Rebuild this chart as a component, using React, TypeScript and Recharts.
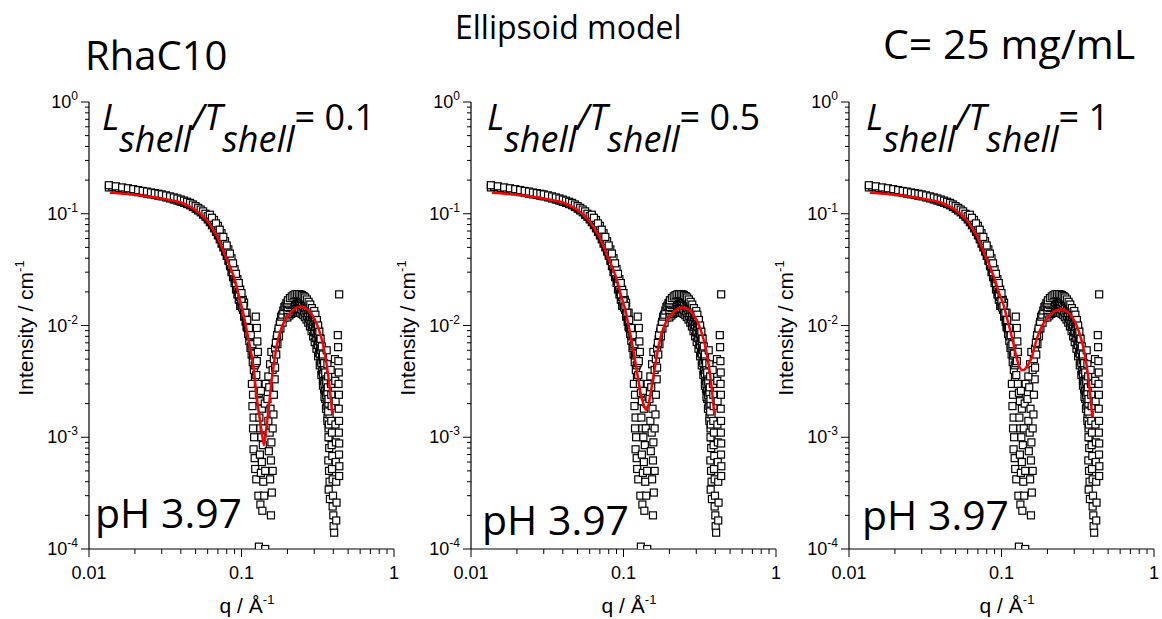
import { ScatterChart, Scatter, XAxis, YAxis } from 'recharts';

const TICK_FONT = '"Liberation Sans", Arial, sans-serif';
const TEXT_FONT = '"Open Sans", "Noto Sans", sans-serif';

// axis ticks
const xMajorTicks = [0.01, 0.1, 1];
const xTickLabels = ['0.01', '0.1', '1'];
const yMajorTicks = [1e-4, 1e-3, 1e-2, 1e-1, 1];
const yTickExponents = ['-4', '-3', '-2', '-1', '0'];
const minorSteps = [2, 3, 4, 5, 6, 7, 8, 9];

// measured curve, low q band
const lowQ = [0.0135, 0.0150, 0.0165, 0.0180, 0.0195, 0.0210, 0.0225, 0.0240, 0.0255, 0.0270, 0.0285, 0.0300, 0.0320, 0.0340, 0.0360, 0.0380, 0.0400, 0.0420, 0.0440, 0.0460, 0.0480, 0.0500, 0.0520, 0.0540, 0.0560, 0.0580, 0.0600, 0.0620, 0.0640, 0.0660, 0.0680, 0.0700, 0.0720, 0.0740, 0.0760, 0.0780, 0.0800, 0.0820, 0.0840, 0.0860, 0.0880, 0.0900, 0.0920, 0.0940, 0.0960, 0.0980];
const lowUpper = [0.180, 0.176, 0.172, 0.169, 0.166, 0.163, 0.160, 0.158, 0.155, 0.153, 0.151, 0.149, 0.146, 0.143, 0.140, 0.137, 0.134, 0.131, 0.128, 0.125, 0.121, 0.117, 0.113, 0.109, 0.105, 0.100, 0.095, 0.090, 0.085, 0.080, 0.075, 0.070, 0.065, 0.060, 0.055, 0.051, 0.046, 0.042, 0.038, 0.034, 0.031, 0.028, 0.025, 0.022, 0.020, 0.018];
const lowLower = [0.172, 0.168, 0.165, 0.162, 0.159, 0.156, 0.154, 0.151, 0.149, 0.147, 0.145, 0.143, 0.140, 0.137, 0.134, 0.131, 0.128, 0.125, 0.122, 0.119, 0.115, 0.111, 0.107, 0.103, 0.098, 0.094, 0.089, 0.084, 0.079, 0.074, 0.069, 0.064, 0.059, 0.054, 0.050, 0.046, 0.042, 0.038, 0.034, 0.030, 0.027, 0.024, 0.021, 0.019, 0.017, 0.015];
const lowQ2 = [0.0142, 0.0157, 0.0172, 0.0187, 0.0202, 0.0217, 0.0232, 0.0247, 0.0262, 0.0277, 0.0292, 0.0310, 0.0330, 0.0350, 0.0370, 0.0390, 0.0410, 0.0430, 0.0450, 0.0470, 0.0490, 0.0510, 0.0530, 0.0550, 0.0570, 0.0590, 0.0610, 0.0630, 0.0650, 0.0670, 0.0690, 0.0710, 0.0730, 0.0750, 0.0770, 0.0790, 0.0810, 0.0830, 0.0850, 0.0870, 0.0890, 0.0910, 0.0930, 0.0950, 0.0970];
const lowMid = [0.174, 0.170, 0.167, 0.164, 0.161, 0.158, 0.156, 0.153, 0.151, 0.149, 0.147, 0.144, 0.141, 0.138, 0.135, 0.132, 0.129, 0.126, 0.123, 0.120, 0.116, 0.112, 0.108, 0.104, 0.0995, 0.095, 0.090, 0.085, 0.080, 0.075, 0.070, 0.065, 0.060, 0.055, 0.051, 0.046, 0.042, 0.038, 0.034, 0.031, 0.028, 0.025, 0.022, 0.020, 0.018];
const kneeQ = [0.062, 0.066, 0.070, 0.074, 0.078, 0.082, 0.086, 0.090, 0.094, 0.098, 0.102];
const kneeI = [0.098, 0.088, 0.078, 0.067, 0.057, 0.048, 0.040, 0.032, 0.026, 0.021, 0.017];
const kneeQ2 = [0.064, 0.068, 0.072, 0.076, 0.080, 0.084, 0.088, 0.092, 0.096, 0.100, 0.104, 0.108];
const kneeHi2 = [0.092, 0.082, 0.072, 0.062, 0.052, 0.044, 0.036, 0.029, 0.024, 0.0195, 0.0160, 0.0130];
const kneeLo2 = [0.086, 0.075, 0.064, 0.054, 0.045, 0.037, 0.030, 0.024, 0.019, 0.015, 0.012, 0.0098];
const descQ = [0.1005, 0.1025, 0.1045, 0.1065, 0.1085, 0.1105, 0.1125, 0.1145, 0.1165, 0.1185, 0.1205, 0.1225];
const descI = [0.0155, 0.0138, 0.0122, 0.0108, 0.0096, 0.0084, 0.0073, 0.0063, 0.0055, 0.0047, 0.0040, 0.0034];

// first minimum, scattered points
const dipQ = [0.100, 0.101, 0.103, 0.104, 0.106, 0.107, 0.109, 0.110, 0.112, 0.113, 0.115, 0.116, 0.118, 0.119, 0.121, 0.122, 0.124, 0.125, 0.124, 0.126, 0.127, 0.128, 0.126, 0.117, 0.119, 0.118, 0.120, 0.119, 0.121, 0.120, 0.122, 0.123, 0.125, 0.128, 0.130, 0.132, 0.134, 0.136, 0.131, 0.133, 0.135, 0.138, 0.132, 0.136, 0.134, 0.139, 0.129, 0.133, 0.137, 0.141, 0.143, 0.140, 0.142, 0.144, 0.148, 0.152, 0.155, 0.150, 0.153, 0.157, 0.151, 0.156, 0.160, 0.154, 0.158, 0.156, 0.160, 0.162, 0.163, 0.165, 0.150, 0.154, 0.157, 0.160, 0.163, 0.166, 0.166, 0.169, 0.170, 0.172, 0.174, 0.176, 0.178, 0.180, 0.183, 0.186, 0.189, 0.192, 0.196, 0.130, 0.143];
const dipI = [0.0165, 0.0145, 0.0150, 0.0128, 0.0130, 0.0110, 0.0112, 0.0094, 0.0095, 0.0080, 0.0082, 0.0066, 0.0068, 0.0054, 0.0056, 0.0044, 0.0046, 0.0036, 0.0120, 0.0095, 0.0072, 0.0058, 0.0048, 0.0030, 0.0024, 0.0019, 0.0015, 0.0012, 0.0010, 0.00078, 0.00065, 0.00052, 0.00042, 0.0030, 0.0025, 0.0021, 0.0026, 0.0018, 0.0015, 0.0012, 0.0010, 0.00085, 0.00070, 0.00060, 0.00048, 0.00040, 0.00030, 0.00025, 0.00022, 0.00030, 0.00050, 0.00120, 0.0020, 0.0030, 0.0022, 0.0028, 0.0018, 0.0014, 0.0011, 0.00090, 0.00075, 0.00062, 0.00050, 0.00042, 0.00032, 0.00020, 0.00120, 0.0016, 0.0024, 0.0033, 0.0035, 0.0045, 0.0058, 0.0040, 0.0050, 0.0042, 0.0062, 0.0055, 0.0075, 0.0068, 0.0088, 0.0080, 0.0102, 0.0094, 0.0115, 0.0106, 0.0128, 0.0118, 0.0140, 0.000105, 0.000100];
const flankQ = [0.168, 0.171, 0.175, 0.179, 0.182, 0.185, 0.188, 0.191, 0.194, 0.197];
const flankI = [0.0070, 0.0082, 0.0094, 0.0108, 0.0120, 0.0125, 0.0136, 0.0146, 0.0150, 0.0158];

// second maximum band
const peakQ = [0.200, 0.206, 0.212, 0.218, 0.224, 0.230, 0.236, 0.242, 0.248, 0.254, 0.260, 0.267, 0.274, 0.281, 0.288, 0.295, 0.302, 0.310, 0.318, 0.326, 0.334, 0.342, 0.350, 0.358, 0.366];
const peakUpper = [0.0160, 0.0168, 0.0175, 0.0180, 0.0184, 0.0186, 0.0187, 0.0186, 0.0183, 0.0179, 0.0173, 0.0166, 0.0158, 0.0148, 0.0137, 0.0125, 0.0112, 0.0099, 0.0085, 0.0072, 0.0060, 0.0049, 0.0040, 0.0032, 0.0026];
const peakMid = [0.0138, 0.0144, 0.0149, 0.0153, 0.0155, 0.0157, 0.0157, 0.0156, 0.0153, 0.0149, 0.0144, 0.0137, 0.0129, 0.0120, 0.0110, 0.0100, 0.0089, 0.0078, 0.0067, 0.0056, 0.0046, 0.0037, 0.0030, 0.0024, 0.0019];
const peakLower = [0.0118, 0.0123, 0.0127, 0.0130, 0.0131, 0.0132, 0.0131, 0.0130, 0.0127, 0.0124, 0.0119, 0.0113, 0.0106, 0.0098, 0.0089, 0.0080, 0.0071, 0.0062, 0.0053, 0.0044, 0.0036, 0.0029, 0.0023, 0.0018, 0.0014];
const peakQ2 = [0.203, 0.209, 0.215, 0.221, 0.227, 0.233, 0.239, 0.245, 0.251, 0.257, 0.263, 0.270, 0.277, 0.284, 0.291, 0.298, 0.306, 0.314, 0.322, 0.330, 0.338, 0.346, 0.354, 0.362];
const peakHi2 = [0.0155, 0.0162, 0.0168, 0.0172, 0.0175, 0.0177, 0.0177, 0.0176, 0.0173, 0.0169, 0.0163, 0.0156, 0.0148, 0.0139, 0.0128, 0.0117, 0.0104, 0.0091, 0.0077, 0.0064, 0.0053, 0.0043, 0.0035, 0.0028];
const peakLo2 = [0.0128, 0.0133, 0.0137, 0.0140, 0.0142, 0.0143, 0.0142, 0.0141, 0.0138, 0.0134, 0.0129, 0.0122, 0.0115, 0.0106, 0.0097, 0.0087, 0.0077, 0.0067, 0.0057, 0.0048, 0.0039, 0.0032, 0.0026, 0.0021];
const peakQ3 = [0.2015, 0.2075, 0.2135, 0.2195, 0.2255, 0.2315, 0.2375, 0.2435, 0.2495, 0.2555, 0.2615, 0.2685, 0.2755, 0.2825, 0.2895, 0.2965, 0.3035, 0.3115, 0.3195, 0.3275];
const peakTop3 = [0.0168, 0.0176, 0.0182, 0.0187, 0.0190, 0.0191, 0.0191, 0.0190, 0.0187, 0.0183, 0.0178, 0.0171, 0.0163, 0.0154, 0.0143, 0.0131, 0.0118, 0.0104, 0.0090, 0.0077];
const peakMid3 = [0.0146, 0.0152, 0.0158, 0.0162, 0.0165, 0.0166, 0.0166, 0.0165, 0.0162, 0.0158, 0.0153, 0.0146, 0.0138, 0.0129, 0.0119, 0.0108, 0.0097, 0.0085, 0.0073, 0.0061];
const rightQ = [0.300, 0.305, 0.312, 0.318, 0.324, 0.330, 0.336, 0.342, 0.348, 0.354, 0.360, 0.366, 0.372, 0.378];
const rightHi = [0.0135, 0.0125, 0.0112, 0.0100, 0.0088, 0.0076, 0.0065, 0.0055, 0.0046, 0.0038, 0.0031, 0.0025, 0.0020, 0.0016];
const rightLo = [0.0090, 0.0082, 0.0072, 0.0063, 0.0055, 0.0047, 0.0040, 0.0033, 0.0027, 0.0022, 0.0018, 0.0015, 0.0012, 0.0010];

// high q tail, scattered points
const tailQ = [0.362, 0.366, 0.370, 0.368, 0.372, 0.370, 0.374, 0.372, 0.376, 0.371, 0.375, 0.378, 0.373, 0.380, 0.384, 0.386, 0.388, 0.390, 0.388, 0.392, 0.390, 0.394, 0.392, 0.396, 0.398, 0.396, 0.400, 0.402, 0.405, 0.410, 0.412, 0.414, 0.413, 0.416, 0.415, 0.418, 0.420, 0.418, 0.428, 0.430, 0.432, 0.434, 0.433, 0.435, 0.434, 0.436, 0.435, 0.437, 0.436, 0.438, 0.437, 0.437];
const tailI = [0.0060, 0.0045, 0.0035, 0.0028, 0.0022, 0.0017, 0.0013, 0.0010, 0.00080, 0.00062, 0.00050, 0.00040, 0.00034, 0.00028, 0.0040, 0.0030, 0.0024, 0.0019, 0.0014, 0.0011, 0.00085, 0.00068, 0.00052, 0.00042, 0.00030, 0.00024, 0.00020, 0.00016, 0.00014, 0.0050, 0.0032, 0.0021, 0.0013, 0.00090, 0.00060, 0.00040, 0.00026, 0.00018, 0.0082, 0.0064, 0.0048, 0.0038, 0.0030, 0.0024, 0.0018, 0.0014, 0.0011, 0.00088, 0.00070, 0.00055, 0.00045, 0.0190];

// fitted ellipsoid model curves
const fitQ = [0.0137, 0.0180, 0.0251, 0.0300, 0.0357, 0.0400, 0.0459, 0.0510, 0.0562, 0.0610, 0.0653, 0.0700, 0.0741, 0.0790, 0.0841, 0.0907, 0.0970, 0.1028, 0.1080, 0.1137, 0.1200, 0.1258, 0.1310, 0.1359, 0.1406, 0.1450, 0.1500, 0.1580, 0.1640, 0.1700, 0.1780, 0.1880, 0.2000, 0.2130, 0.2270, 0.2420, 0.2580, 0.2740, 0.2920, 0.3110, 0.3280, 0.3450, 0.3580, 0.3710, 0.3830, 0.3940];
const fitRatio01 = [0.154, 0.150, 0.142, 0.137, 0.131, 0.126, 0.116, 0.106, 0.094, 0.083, 0.0715, 0.061, 0.0507, 0.041, 0.0336, 0.0255, 0.0175, 0.0128, 0.0092, 0.00645, 0.0042, 0.0023, 0.00155, 0.00110, 0.00085, 0.00115, 0.0017, 0.0033, 0.0048, 0.0065, 0.0085, 0.0104, 0.0121, 0.0133, 0.0143, 0.0147, 0.0145, 0.0137, 0.0123, 0.0104, 0.0084, 0.0065, 0.0049, 0.0035, 0.0024, 0.0016];
const fitRatio05 = [0.154, 0.150, 0.142, 0.137, 0.131, 0.126, 0.116, 0.106, 0.094, 0.083, 0.0715, 0.061, 0.0507, 0.041, 0.0336, 0.0255, 0.0180, 0.0138, 0.0100, 0.0070, 0.0046, 0.0031, 0.0023, 0.00195, 0.00176, 0.0019, 0.0024, 0.0037, 0.0050, 0.0066, 0.0085, 0.0104, 0.0120, 0.0132, 0.0141, 0.0145, 0.0143, 0.0135, 0.0121, 0.0102, 0.0083, 0.0064, 0.0049, 0.0035, 0.0024, 0.0016];
const fitRatio1 = [0.154, 0.150, 0.142, 0.137, 0.131, 0.126, 0.116, 0.106, 0.094, 0.083, 0.0715, 0.061, 0.0507, 0.041, 0.0336, 0.0255, 0.0190, 0.0155, 0.0120, 0.0092, 0.0068, 0.0051, 0.0043, 0.0040, 0.0040, 0.0042, 0.0045, 0.0052, 0.0063, 0.0075, 0.0089, 0.0104, 0.0117, 0.0128, 0.0136, 0.0140, 0.0138, 0.0131, 0.0118, 0.0100, 0.0081, 0.0063, 0.0048, 0.0034, 0.0023, 0.0015];

const ratioLabels = ['0.1', '0.5', '1'];

const rows = (qs: number[], is: number[]) => qs.map((q, k) => ({ q, i: is[k] }));

const measured = [
  ...rows(lowQ, lowLower),
  ...rows(lowQ2, lowMid),
  ...rows(lowQ, lowUpper),
  ...rows(kneeQ2, kneeLo2),
  ...rows(kneeQ, kneeI),
  ...rows(kneeQ2, kneeHi2),
  ...rows(descQ, descI),
  ...rows(dipQ, dipI),
  ...rows(flankQ, flankI),
  ...rows(rightQ, rightLo),
  ...rows(peakQ, peakLower),
  ...rows(peakQ2, peakLo2),
  ...rows(peakQ, peakMid),
  ...rows(peakQ3, peakMid3),
  ...rows(peakQ2, peakHi2),
  ...rows(peakQ, peakUpper),
  ...rows(peakQ3, peakTop3),
  ...rows(rightQ, rightHi),
  ...rows(tailQ, tailI),
];

const fits = [fitRatio01, fitRatio05, fitRatio1].map((vals) => rows(fitQ, vals));

const xTicks = [...xMajorTicks, ...xMajorTicks.slice(0, -1).flatMap((d) => minorSteps.map((m) => m * d))];
const yTicks = [...yMajorTicks, ...yMajorTicks.slice(0, -1).flatMap((d) => minorSteps.map((m) => m * d))];

const XTick = ({ x, y, payload }: any) => {
  const idx = xMajorTicks.indexOf(payload.value);
  const major = idx >= 0;
  return (
    <g>
      <line x1={x} x2={x} y1={y} y2={y + (major ? 8 : 5)} stroke="#000" strokeWidth={1} />
      {major && (
        <text x={x} y={y + 30} textAnchor="middle" fontSize={18} fontFamily={TICK_FONT} fill="#000">
          {xTickLabels[idx]}
        </text>
      )}
    </g>
  );
};

const YTick = ({ x, y, payload }: any) => {
  const idx = yMajorTicks.indexOf(payload.value);
  const major = idx >= 0;
  return (
    <g>
      <line x1={x} x2={x - (major ? 8 : 4)} y1={y} y2={y} stroke="#000" strokeWidth={1} />
      {major && (
        <text x={x - 11} y={y + 6} textAnchor="end" fontSize={18} fontFamily={TICK_FONT} fill="#000">
          10<tspan dy={-8} fontSize={12}>{yTickExponents[idx]}</tspan>
        </text>
      )}
    </g>
  );
};

const XTitle = () => (
  <text x={247} y={613} textAnchor="middle" fontSize={21} fontFamily={TICK_FONT} fill="#000">
    q / Å<tspan dy={-9} fontSize={13}>-1</tspan>
  </text>
);

const YTitle = () => (
  <text
    x={33}
    y={328}
    transform="rotate(-90, 33, 328)"
    textAnchor="middle"
    fontSize={21}
    fontFamily={TICK_FONT}
    fill="#000"
  >
    Intensity / cm<tspan dy={-9} fontSize={13}>-1</tspan>
  </text>
);

const Square = (props: any) => {
  const { cx, cy } = props;
  if (cx == null || cy == null) return <g />;
  return <rect x={cx - 3.5} y={cy - 3.5} width={7} height={7} fill="#fff" stroke="#000" strokeWidth={1.2} />;
};

function Panel({ left, fit }: { left: number; fit: { q: number; i: number }[] }) {
  return (
    <div style={{ position: 'absolute', left, top: 0 }}>
      <ScatterChart width={400} height={619} margin={{ top: 102, right: 6, bottom: 0, left: 0 }}>
        <XAxis
          type="number"
          dataKey="q"
          scale="log"
          domain={[0.01, 1]}
          allowDataOverflow
          ticks={xTicks}
          interval={0}
          tick={(p: any) => <XTick {...p} />}
          tickLine={false}
          tickSize={0}
          tickMargin={0}
          height={70}
          axisLine={{ stroke: '#000', strokeWidth: 1.2 }}
          label={<XTitle />}
        />
        <YAxis
          type="number"
          dataKey="i"
          scale="log"
          domain={[1e-4, 1]}
          allowDataOverflow
          ticks={yTicks}
          interval={0}
          tick={(p: any) => <YTick {...p} />}
          tickLine={false}
          tickSize={0}
          tickMargin={0}
          width={89}
          axisLine={{ stroke: '#000', strokeWidth: 1.2 }}
          label={<YTitle />}
        />
        <Scatter data={measured} shape={Square} isAnimationActive={false} />
        <Scatter
          data={fit}
          line={{ stroke: '#ff0000', strokeWidth: 2.5 }}
          lineJointType="monotoneX"
          shape={() => <g />}
          isAnimationActive={false}
        />
      </ScatterChart>
    </div>
  );
}

const panelLefts = [0, 382, 760];
const ratioX = [102, 487, 866];
const phX = [95, 482, 862];
const phY = [528, 535, 530];

export default function App() {
  return (
    <div style={{ position: 'absolute', left: 0, top: 0, width: 1162, height: 619, background: '#fff', overflow: 'hidden' }}>
      {panelLefts.map((left, k) => (
        <Panel key={k} left={left} fit={fits[k]} />
      ))}
      <svg width={1162} height={619} style={{ position: 'absolute', left: 0, top: 0, pointerEvents: 'none' }}>
        <g fontFamily={TEXT_FONT} fill="#000">
          <text x={85} y={70} fontSize={40}>RhaC10</text>
          <text x={455} y={39} fontSize={32}>Ellipsoid model</text>
          <text x={883} y={59} fontSize={41}>C= 25 mg/mL</text>
          {ratioLabels.map((r, k) => (
            <text key={r} x={ratioX[k]} y={130} fontSize={36}>
              <tspan fontStyle="italic">L</tspan>
              <tspan fontStyle="italic" dy={22}>shell</tspan>
              <tspan fontStyle="italic" dy={-22}>/T</tspan>
              <tspan fontStyle="italic" dy={22}>shell</tspan>
              <tspan dy={-22}>{`= ${r}`}</tspan>
            </text>
          ))}
          {phX.map((x, k) => (
            <text key={k} x={x} y={phY[k]} fontSize={41}>pH 3.97</text>
          ))}
        </g>
      </svg>
    </div>
  );
}
